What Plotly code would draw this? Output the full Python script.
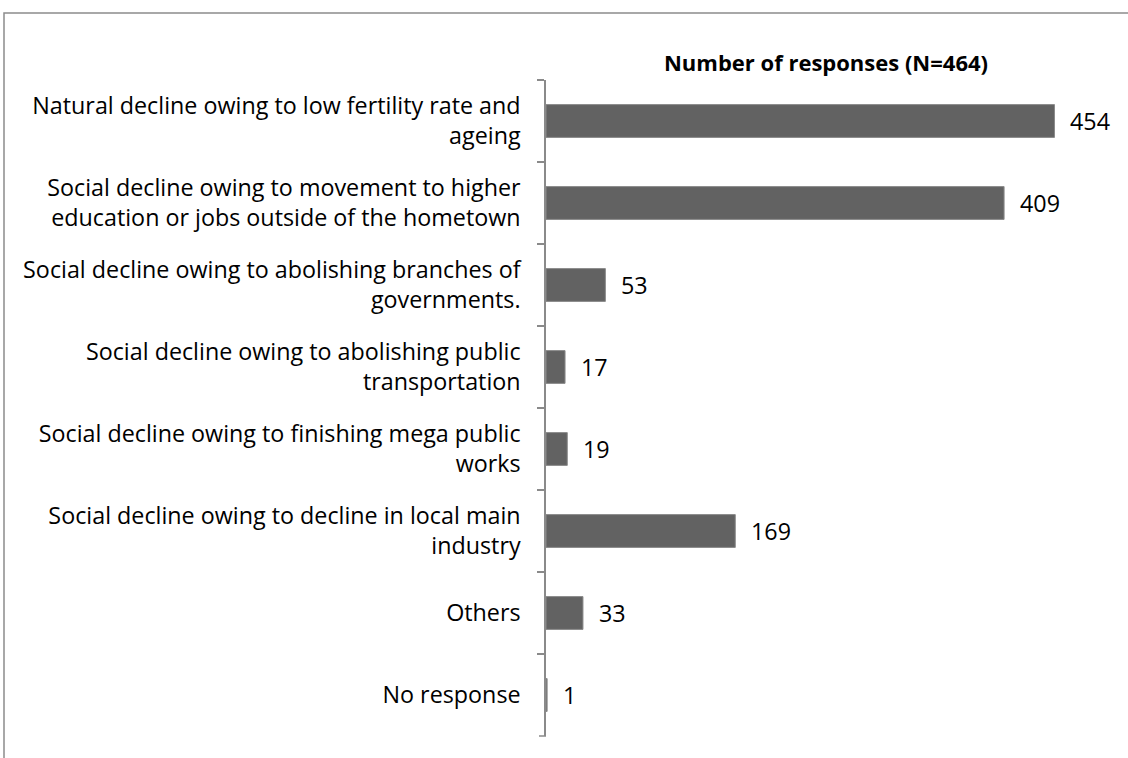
import plotly.graph_objects as go

categories = [
    "Natural decline owing to low fertility rate and<br>ageing",
    "Social decline owing to movement to higher<br>education or jobs outside of the hometown",
    "Social decline owing to abolishing branches of<br>governments.",
    "Social decline owing to abolishing public<br>transportation",
    "Social decline owing to finishing mega public<br>works",
    "Social decline owing to decline in local main<br>industry",
    "Others",
    "No response",
]
values = [454, 409, 53, 17, 19, 169, 33, 1]
title_text = "Number of responses (N=464)"

FONT = "Open Sans"
FS = 23.3
L, R, T, B = 546, 22, 80, 22
W, H = 1128, 758
pw = W - L - R
ph = H - T - B

fig = go.Figure(go.Bar(
    y=categories, x=values, orientation="h",
    marker=dict(color="#626262", line=dict(color="#8a8a8a", width=1)),
    hoverinfo="skip",
))

for c, v in zip(categories, values):
    fig.add_annotation(x=v, y=c, xref="x", yref="y", text=str(v), showarrow=False,
                       xanchor="left", yanchor="middle", xshift=14,
                       font=dict(family=FONT, size=FS, color="#000000"))

# outer frame (top and left edges)
fx = (4 - L) / pw
fy = (H - B - 13) / ph
fig.add_shape(type="path", xref="paper", yref="paper",
              path=f"M {fx} -0.2 L {fx} {fy} L 1.2 {fy}",
              line=dict(color="#8c8c8c", width=1.5))
# bottom boundary tick
fig.add_shape(type="line", xref="paper", yref="paper",
              x0=-7 / pw, x1=0, y0=0, y1=0,
              line=dict(color="#8a8a8a", width=1.5))

fig.update_layout(
    width=W, height=H,
    margin=dict(l=L, r=R, t=T, b=B),
    paper_bgcolor="white", plot_bgcolor="white",
    bargap=0.6,
    showlegend=False,
    title=dict(text=f"<b>{title_text}</b>", x=(L + pw / 2) / W, xanchor="center",
               y=1 - 63 / H, yanchor="middle",
               font=dict(family=FONT, size=22, color="#000000")),
    xaxis=dict(range=[0, 500], visible=False, showgrid=False, zeroline=False),
    yaxis=dict(autorange="reversed", showline=True, linecolor="#8a8a8a", linewidth=1.5,
               ticks="outside", tickson="boundaries", ticklen=7, tickcolor="#8a8a8a",
               tickwidth=1.5, showgrid=False, ticklabelstandoff=19,
               tickfont=dict(family=FONT, size=FS, color="#000000")),
)

fig.write_html("out.html", config={"displayModeBar": False},
               post_script="document.body.style.margin='0';")
